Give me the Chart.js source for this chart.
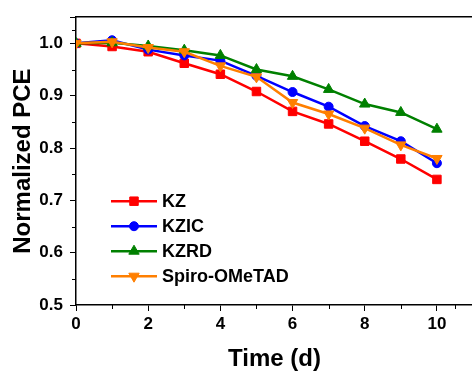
<!DOCTYPE html>
<html>
<head>
<meta charset="utf-8">
<script src="https://cdn.jsdelivr.net/npm/chart.js@4.4.1/dist/chart.umd.min.js"></script>
<style>
  html, body { margin: 0; padding: 0; background: #fff; overflow: hidden; }
  #wrap { width: 480px; height: 374px; }
</style>
</head>
<body>
<div id="wrap"><canvas id="pceChart"></canvas></div>
<script>
// time in days
const days = [0, 1, 2, 3, 4, 5, 6, 7, 8, 9, 10];
const kz = [1.000, 0.994, 0.984, 0.962, 0.941, 0.908, 0.870, 0.846, 0.813, 0.779, 0.740];
const kzic = [1.000, 1.006, 0.988, 0.977, 0.967, 0.938, 0.907, 0.879, 0.842, 0.813, 0.771];
const kzrd = [1.000, 1.001, 0.995, 0.987, 0.977, 0.950, 0.937, 0.912, 0.884, 0.868, 0.836];
const spiro = [1.000, 1.003, 0.992, 0.984, 0.957, 0.936, 0.887, 0.865, 0.838, 0.806, 0.780];
const seriesNames = ["KZ", "KZIC", "KZRD", "Spiro-OMeTAD"];

const FONT = "'Liberation Sans', Arial, sans-serif";

function pts(values) {
  return values.map((v, i) => ({ x: days[i], y: v }));
}

function makeSet(label, values, color, style, radius, rotation, order) {
  return {
    label, data: pts(values), borderColor: color, backgroundColor: color,
    borderWidth: 2.5, pointStyle: style, pointRadius: radius, pointRotation: rotation,
    pointBorderWidth: 1, pointBackgroundColor: color, pointBorderColor: color,
    tension: 0, order
  };
}

// minor ticks halfway between the major ones
const minorTicks = {
  id: "minorTicks",
  afterDraw(chart) {
    const ctx = chart.ctx;
    ctx.save();
    ctx.strokeStyle = "#000";
    ctx.lineWidth = 1;
    const xs = chart.scales.x, ys = chart.scales.y;
    for (let i = 0; i < xs.ticks.length; i++) {
      const a = xs.ticks[i].value;
      const b = i + 1 < xs.ticks.length ? xs.ticks[i + 1].value : a + 2;
      const px = Math.round(xs.getPixelForValue((a + b) / 2)) + 0.5;
      if (px > chart.chartArea.right) continue;
      ctx.beginPath(); ctx.moveTo(px, xs.top); ctx.lineTo(px, xs.top + 4); ctx.stroke();
    }
    for (let i = 0; i < ys.ticks.length - 1; i++) {
      const m = (ys.ticks[i].value + ys.ticks[i + 1].value) / 2;
      const py = Math.round(ys.getPixelForValue(m)) + 0.5;
      ctx.beginPath(); ctx.moveTo(ys.right, py); ctx.lineTo(ys.right - 4, py); ctx.stroke();
    }
    ctx.restore();
  }
};

// legend inside the plot: line with marker, bold names
const innerLegend = {
  id: "innerLegend",
  afterDraw(chart) {
    const ctx = chart.ctx;
    const area = chart.chartArea;
    const x0 = area.left + 35, y0 = area.top + 184;
    ctx.save();
    chart.data.datasets.forEach((ds, i) => {
      const y = y0 + i * 25;
      ctx.strokeStyle = ds.borderColor;
      ctx.lineWidth = 2.5;
      ctx.beginPath(); ctx.moveTo(x0, y); ctx.lineTo(x0 + 46, y); ctx.stroke();
      ctx.fillStyle = ds.borderColor;
      ctx.strokeStyle = ds.borderColor;
      ctx.lineWidth = 1;
      Chart.helpers.drawPoint(ctx, { pointStyle: ds.pointStyle, radius: ds.pointRadius, rotation: ds.pointRotation, borderWidth: 1 }, x0 + 23, y);
      ctx.fillStyle = "#000";
      ctx.font = "bold 18px " + FONT;
      ctx.textBaseline = "middle";
      ctx.fillText(ds.label, x0 + 51, y + 1);
    });
    ctx.restore();
  }
};

const ctx = document.getElementById("pceChart").getContext("2d");
new Chart(ctx, {
  type: "line",
  data: {
    datasets: [
      makeSet(seriesNames[0], kz, "#ff0000", "rect", 6, 0, 4),
      makeSet(seriesNames[1], kzic, "#0000ff", "circle", 4.5, 0, 3),
      makeSet(seriesNames[2], kzrd, "#008000", "triangle", 6, 0, 2),
      makeSet(seriesNames[3], spiro, "#ff7f00", "triangle", 6, 180, 1)
    ]
  },
  options: {
    responsive: true,
    maintainAspectRatio: false,
    animation: false,
    layout: { padding: { top: 14, right: 2, left: 0, bottom: 0 } },
    plugins: { legend: { display: false }, tooltip: { enabled: false } },
    scales: {
      x: {
        type: "linear", position: "bottom", min: 0, max: 11,
        afterFit(scale) { scale.height = 69; },
        ticks: {
          stepSize: 2, padding: 3, color: "#000",
          font: { family: FONT, size: 17, weight: "bold" },
          callback: (v) => (v <= 10 ? v : "")
        },
        grid: { drawOnChartArea: false, tickLength: 6, tickColor: "#000", tickWidth: 1 },
        border: { display: true, color: "#000", width: 1.5 },
        title: {
          display: true, text: "Time (d)", color: "#000",
          font: { family: FONT, size: 24, weight: "bold" }, padding: { top: 0, bottom: 0 }
        }
      },
      x2: {
        type: "linear", position: "top", min: 0, max: 11,
        afterFit(scale) { scale.height = 0; },
        ticks: { display: false },
        grid: { drawOnChartArea: false, drawTicks: false },
        border: { display: true, color: "#000", width: 1.5 }
      },
      y: {
        min: 0.5, max: 1.05,
        afterFit(scale) { scale.width = 76; },
        ticks: {
          stepSize: 0.1, padding: 7, color: "#000",
          font: { family: FONT, size: 17, weight: "bold" },
          callback: (v) => (v > 1.001 ? "" : v.toFixed(1))
        },
        grid: { drawOnChartArea: false, tickLength: 6, tickColor: "#000", tickWidth: 1 },
        border: { display: true, color: "#000", width: 1.5 },
        title: {
          display: true, text: "Normalized PCE", color: "#000",
          font: { family: FONT, size: 24, weight: "bold" }, padding: { top: 9, bottom: 0 }
        }
      }
    }
  },
  plugins: [minorTicks, innerLegend]
});
</script>
</body>
</html>
